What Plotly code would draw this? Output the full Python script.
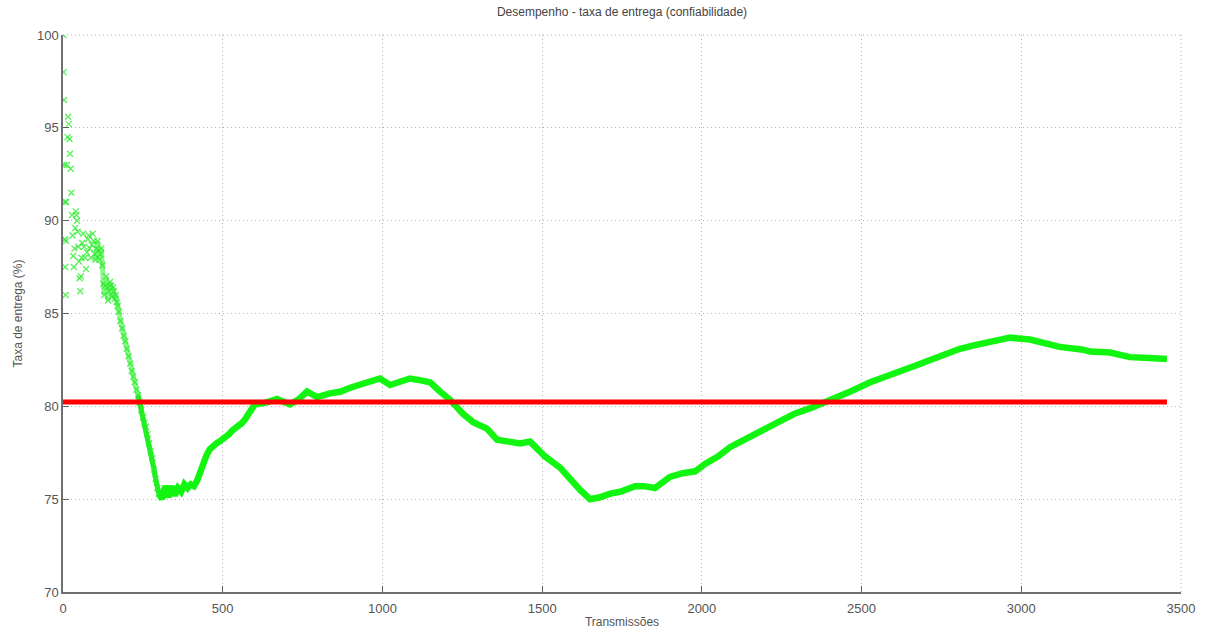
import plotly.graph_objects as go

# Cumulative delivery rate per transmission count
transmissoes = [
    1, 2, 3, 4, 5, 6, 7, 8, 9, 10, 12, 14, 16, 18, 20, 22, 24, 26, 28, 30,
    32, 34, 36, 38, 40, 42, 44, 46, 48, 50, 52, 54, 56, 58, 60, 63, 66, 69, 72, 75,
    78, 81, 84, 87, 90, 93, 96, 99, 102, 105, 108, 111, 114, 117, 120, 123, 126, 129, 132, 135,
    138, 141, 144, 147, 150, 153, 156, 159, 162, 165, 168, 171, 175, 180, 185, 190, 195, 200, 205, 210,
    215, 220, 225, 230, 235, 240, 245, 250, 255, 260, 265, 270, 275, 280, 285, 290, 295, 300, 305, 310,
    315, 320, 325, 330, 335, 340, 345, 350, 360, 370, 380, 390, 400, 410, 420, 430, 440, 450, 460, 470,
    480, 490, 500, 510, 520, 530, 540, 550, 560, 570, 580, 590, 600, 635, 670, 711, 740, 764, 795, 836,
    870, 899, 940, 992, 1024, 1055, 1086, 1120, 1149, 1180, 1212, 1252, 1284, 1327, 1359, 1395, 1431, 1462, 1509, 1556,
    1590, 1619, 1650, 1681, 1713, 1744, 1791, 1820, 1853, 1900, 1940, 1979, 2010, 2050, 2088, 2150, 2200, 2245, 2290, 2340,
    2400, 2465, 2527, 2575, 2620, 2670, 2715, 2760, 2808, 2855, 2900, 2965, 3027, 3090, 3120, 3194, 3215, 3278, 3340, 3400,
    3456,
]
taxa_entrega = [
    100.0, 98.0, 96.5, 93.0, 91.0, 89.0, 87.5, 86.0, 88.9, 91.0, 93.0, 94.5, 95.6, 95.2, 94.4, 93.6, 92.8, 91.5, 90.3, 89.2,
    88.1, 87.5, 88.5, 89.6, 90.5, 90.3, 90.0, 89.4, 88.6, 87.8, 86.9, 86.2, 87.0, 88.0, 88.8, 89.3, 88.6, 88.0, 87.4, 88.3,
    89.0, 89.2, 88.5, 88.0, 88.7, 89.3, 88.9, 88.2, 87.9, 88.5, 88.9, 88.4, 87.9, 88.2, 88.5, 87.6, 86.6, 86.0, 86.5, 87.0,
    86.4, 85.7, 86.2, 86.7, 86.5, 85.9, 86.4, 86.2, 85.8, 86.0, 85.6, 85.4, 85.1, 84.6, 84.2, 83.8, 83.5, 83.1, 82.7, 82.3,
    81.9, 81.6, 81.3, 80.9, 80.6, 80.2, 79.8, 79.4, 79.1, 78.9, 78.5, 78.0, 77.6, 77.2, 76.6, 76.1, 75.6, 75.3, 75.1, 75.0,
    75.4, 75.7, 75.5, 75.1, 75.5, 75.7, 75.4, 75.2, 75.6, 75.4, 75.8, 75.6, 75.8, 75.7, 76.0, 76.5, 77.0, 77.4, 77.7, 77.9,
    78.0, 78.1, 78.2, 78.4, 78.5, 78.7, 78.8, 78.9, 79.1, 79.3, 79.6, 79.9, 80.1, 80.2, 80.4, 80.1, 80.4, 80.8, 80.5, 80.7,
    80.8, 81.0, 81.2, 81.5, 81.15, 81.3, 81.5, 81.4, 81.3, 80.8, 80.35, 79.6, 79.15, 78.8, 78.2, 78.1, 78.0, 78.1, 77.3, 76.7,
    76.0, 75.5, 75.0, 75.1, 75.3, 75.4, 75.7, 75.7, 75.6, 76.2, 76.4, 76.5, 76.9, 77.3, 77.8, 78.4, 78.8, 79.2, 79.6, 79.9,
    80.3, 80.8, 81.3, 81.6, 81.8, 82.2, 82.5, 82.8, 83.1, 83.3, 83.5, 83.7, 83.6, 83.3, 83.2, 83.05, 82.95, 82.9, 82.65, 82.6,
    82.55,
]
media_entrega = 80.23

x_ticks = [0, 500, 1000, 1500, 2000, 2500, 3000, 3500]
y_ticks = [70, 75, 80, 85, 90, 95, 100]

FONT = "Liberation Sans, Arial, sans-serif"
GRID = "#b4b4b4"
GRID_DASH = "1px,3px"

# Split: the noisy start is drawn as scattered markers, the rest as a dense band
n_ruido = sum(1 for t in transmissoes if t <= 300)
n_nuvem = sum(1 for t in transmissoes if t < 100)
n_inicio_linha = sum(1 for t in transmissoes if t < 235)

fig = go.Figure()

# faint band behind the descending cloud of early samples
fig.add_trace(go.Scatter(
    x=transmissoes[n_nuvem:n_ruido], y=taxa_entrega[n_nuvem:n_ruido],
    mode="lines", line=dict(color="rgba(40,240,40,0.55)", width=5),
    showlegend=False, hoverinfo="skip",
))
fig.add_trace(go.Scatter(
    x=transmissoes[:n_ruido], y=taxa_entrega[:n_ruido],
    mode="markers",
    marker=dict(symbol="x-thin", size=6, color="rgba(0,255,0,0.75)",
                line=dict(width=1.4, color="rgba(40,235,40,0.75)")),
    showlegend=False, hoverinfo="x+y",
))
fig.add_trace(go.Scatter(
    x=transmissoes[n_inicio_linha:n_ruido], y=taxa_entrega[n_inicio_linha:n_ruido],
    mode="lines", line=dict(color="#22ee22", width=5),
    showlegend=False, hoverinfo="skip",
))
fig.add_trace(go.Scatter(
    x=transmissoes[n_ruido - 1:], y=taxa_entrega[n_ruido - 1:],
    mode="lines", line=dict(color="#11f511", width=6.5),
    showlegend=False, hoverinfo="x+y",
))
fig.add_trace(go.Scatter(
    x=[0, transmissoes[-1]], y=[media_entrega, media_entrega],
    mode="lines", line=dict(color="#ff0000", width=5),
    showlegend=False, hoverinfo="y",
))

axis_font = dict(family=FONT, size=13, color="#555555")
label_font = dict(family=FONT, size=12, color="#555555")

fig.update_layout(
    width=1207, height=633,
    margin=dict(l=63, r=26, t=35, b=41),
    paper_bgcolor="white", plot_bgcolor="white",
    title=dict(text="Desempenho - taxa de entrega (confiabilidade)",
               x=0.5, xref="paper", xanchor="center",
               y=1, yref="container", yanchor="top", pad=dict(t=8),
               font=dict(family=FONT, size=12, color="#444444")),
    font=axis_font,
    # dotted frame on the top and right edges, as the grid continues there
    shapes=[
        dict(type="line", xref="paper", yref="paper", x0=0, x1=1, y0=1, y1=1,
             line=dict(color=GRID, width=1, dash=GRID_DASH), layer="below"),
        dict(type="line", xref="paper", yref="paper", x0=1, x1=1, y0=0, y1=1,
             line=dict(color=GRID, width=1, dash=GRID_DASH), layer="below"),
    ],
)
fig.update_xaxes(
    range=[0, 3500], tickvals=x_ticks, ticktext=[str(v) for v in x_ticks],
    showgrid=True, gridcolor=GRID, griddash=GRID_DASH, gridwidth=1,
    showline=True, linecolor="#707070", linewidth=1.5,
    ticks="inside", ticklen=6, tickcolor="#606060",
    ticklabelstandoff=4, automargin=False,
    zeroline=False, tickfont=axis_font,
    title=dict(text="Transmissões", standoff=2, font=label_font),
)
fig.update_yaxes(
    range=[70, 100], tickvals=y_ticks, ticktext=[str(v) for v in y_ticks],
    showgrid=True, gridcolor=GRID, griddash=GRID_DASH, gridwidth=1,
    showline=True, linecolor="#707070", linewidth=1.5,
    ticks="inside", ticklen=6, tickcolor="#606060",
    automargin=False,
    zeroline=False, tickfont=axis_font,
    title=dict(text="Taxa de entrega (%)", standoff=12, font=label_font),
)

fig.write_html("out.html")
